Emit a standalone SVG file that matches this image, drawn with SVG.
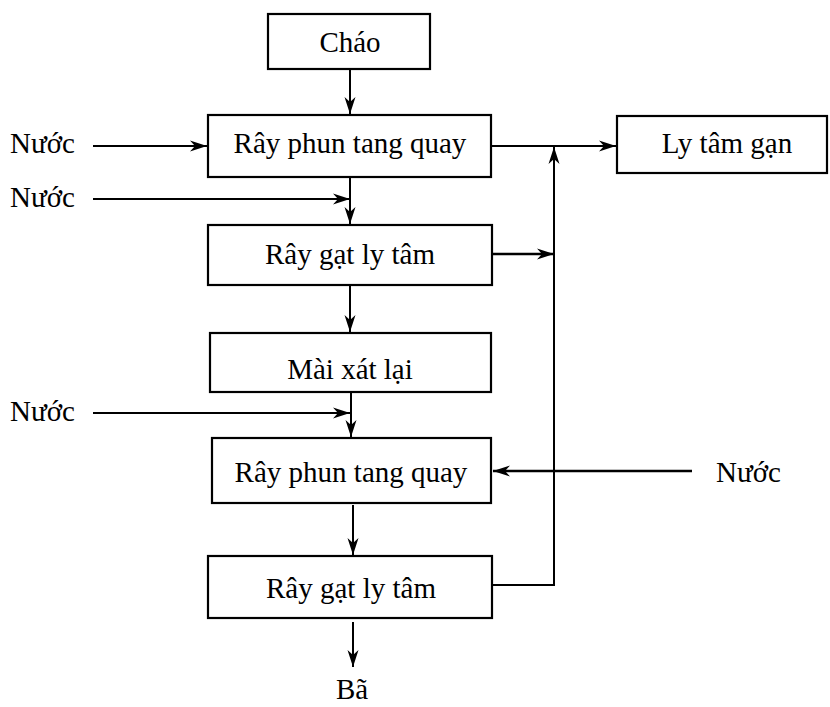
<svg xmlns="http://www.w3.org/2000/svg" width="830" height="707" viewBox="0 0 830 707">
<style>
.box{fill:#fff;stroke:#000;stroke-width:2.2}
.t{font-family:"Liberation Serif","Times New Roman",serif;font-size:29px;fill:#000}
.c{text-anchor:middle}
.ln{fill:none;stroke:#000;stroke-width:2}
</style>
<defs>
<marker id="ah" markerUnits="userSpaceOnUse" markerWidth="18" markerHeight="12" viewBox="0 0 18 12" refX="17" refY="6" orient="auto">
<path d="M0,0.5 L17,6 L0,11.5 L5,6 z" fill="#000"/>
</marker>
</defs>
<rect width="830" height="707" fill="#fff"/>
<g id="connectors">
<line class="ln" x1="350" y1="69" x2="350" y2="114" marker-end="url(#ah)"/>
<line class="ln" x1="93" y1="146" x2="207" y2="146" marker-end="url(#ah)"/>
<line class="ln" x1="93" y1="199" x2="350" y2="199" marker-end="url(#ah)"/>
<line class="ln" x1="350" y1="178" x2="350" y2="224" marker-end="url(#ah)"/>
<line class="ln" x1="491" y1="146" x2="616" y2="146" marker-end="url(#ah)"/>
<polyline class="ln" points="492,585 554,585 554,147" marker-end="url(#ah)"/>
<line class="ln" x1="492" y1="254" x2="554" y2="254" marker-end="url(#ah)" style="stroke-width:2.6"/>
<line class="ln" x1="350" y1="286" x2="350" y2="332" marker-end="url(#ah)"/>
<line class="ln" x1="93" y1="413" x2="350" y2="413" marker-end="url(#ah)"/>
<line class="ln" x1="351" y1="393" x2="351" y2="437" marker-end="url(#ah)"/>
<line class="ln" x1="692" y1="471" x2="493" y2="471" marker-end="url(#ah)" style="stroke-width:2.6"/>
<line class="ln" x1="353" y1="505" x2="353" y2="555" marker-end="url(#ah)"/>
<line class="ln" x1="353" y1="622" x2="353" y2="667" marker-end="url(#ah)"/>
</g>
<g id="chao"><rect class="box" x="268" y="14" width="162" height="55"/><text class="t c" x="350" y="52">Cháo</text></g>
<g id="ray-phun-1"><rect class="box" x="208" y="115" width="283" height="62"/><text class="t c" x="350" y="153">Rây phun tang quay</text></g>
<g id="ly-tam-gan"><rect class="box" x="617" y="116" width="210" height="57"/><text class="t c" x="727" y="153">Ly tâm gạn</text></g>
<g id="ray-gat-1"><rect class="box" x="208" y="225" width="284" height="60"/><text class="t c" x="350" y="264">Rây gạt ly tâm</text></g>
<g id="mai-xat"><rect class="box" x="210" y="333" width="281" height="59"/><text class="t c" x="350" y="379">Mài xát lại</text></g>
<g id="ray-phun-2"><rect class="box" x="212" y="438" width="279" height="65"/><text class="t c" x="351" y="482">Rây phun tang quay</text></g>
<g id="ray-gat-2"><rect class="box" x="208" y="556" width="284" height="62"/><text class="t c" x="351" y="598">Rây gạt ly tâm</text></g>
<g id="labels">
<text class="t" x="10" y="153">Nước</text>
<text class="t" x="10" y="207">Nước</text>
<text class="t" x="10" y="421">Nước</text>
<text class="t" x="716" y="482">Nước</text>
<text class="t c" x="352" y="699">Bã</text>
</g>
</svg>
